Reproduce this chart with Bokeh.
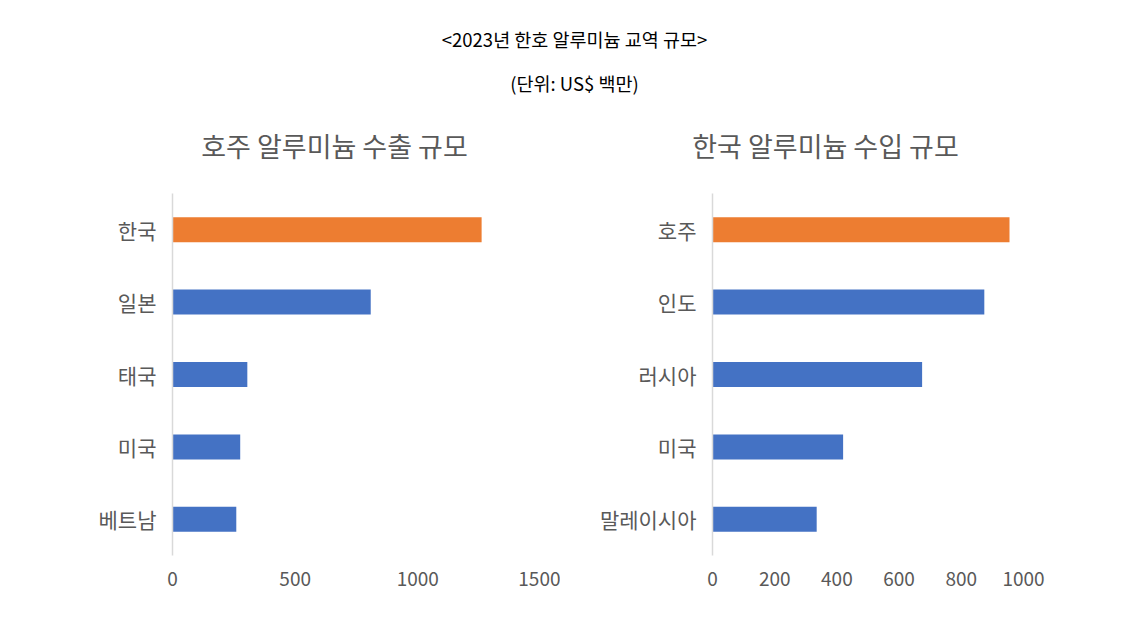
from bokeh.plotting import figure
from bokeh.models import Range1d, FactorRange, FixedTicker, Label
from bokeh.layouts import column, row
from bokeh.embed import file_html
from bokeh.resources import INLINE

# ---- data ----
main_title = "<2023년 한호 알루미늄 교역 규모>"
sub_title = "(단위: US$ 백만)"

left_title = "호주 알루미늄 수출 규모"
left_cats = ["한국", "일본", "태국", "미국", "베트남"]
left_vals = [1260, 808, 305, 276, 260]
left_ticks = [0, 500, 1000, 1500]

right_title = "한국 알루미늄 수입 규모"
right_cats = ["호주", "인도", "러시아", "미국", "말레이시아"]
right_vals = [955, 874, 674, 420, 335]
right_ticks = [0, 200, 400, 600, 800, 1000]

ORANGE = "#ED7D31"
BLUE = "#4472C4"
GRAY = "#595959"
FONT = "Noto Sans CJK KR"

# ---- header ----
header = figure(width=1134, height=178, x_range=Range1d(0, 1134), y_range=Range1d(0, 178),
                output_backend="svg", toolbar_location=None, min_border=0)
header.axis.visible = False
header.grid.visible = False
header.outline_line_color = None
header.add_layout(Label(x=574, y=140, text=main_title, text_align="center", text_baseline="middle",
                        text_font=FONT, text_font_size="18.5px", text_color="#000000"))
header.add_layout(Label(x=574, y=96, text=sub_title, text_align="center", text_baseline="middle",
                        text_font=FONT, text_font_size="18.5px", text_color="#000000"))
header.add_layout(Label(x=334, y=33, text=left_title, text_align="center", text_baseline="middle",
                        text_font=FONT, text_font_size="27px", text_color=GRAY))
header.add_layout(Label(x=825, y=33, text=right_title, text_align="center", text_baseline="middle",
                        text_font=FONT, text_font_size="27px", text_color=GRAY))


def bar_chart(cats, vals, xmax, ticks, width, bl, br):
    colors = [ORANGE] + [BLUE] * (len(cats) - 1)
    p = figure(width=width, height=437, y_range=FactorRange(*reversed(cats)),
               x_range=Range1d(0, xmax), output_backend="svg", toolbar_location=None,
               min_border_left=bl, min_border_right=br, min_border_top=15, min_border_bottom=60)
    p.hbar(y=cats, right=vals, left=0, height=0.345, color=colors, line_color=None)
    p.grid.visible = False
    p.outline_line_color = None
    p.background_fill_color = "white"
    p.border_fill_color = "white"
    p.yaxis.axis_line_color = "#D9D9D9"
    p.yaxis.axis_line_width = 1.5
    p.yaxis.major_tick_line_color = None
    p.yaxis.minor_tick_line_color = None
    p.yaxis.major_label_text_font = FONT
    p.yaxis.major_label_text_font_size = "21px"
    p.yaxis.major_label_text_color = GRAY
    p.yaxis.major_label_standoff = 10
    p.xaxis.ticker = FixedTicker(ticks=ticks)
    p.xaxis.axis_line_color = None
    p.xaxis.major_tick_line_color = None
    p.xaxis.minor_tick_line_color = None
    p.xaxis.major_label_text_font = FONT
    p.xaxis.major_label_text_font_size = "19px"
    p.xaxis.major_label_text_color = GRAY
    p.xaxis.major_label_standoff = 10
    return p


left = bar_chart(left_cats, left_vals, 1500, left_ticks, 560, 172, 20)
right = bar_chart(right_cats, right_vals, 1000, right_ticks, 574, 152, 111)

layout = column(header, row(left, right))
open("out.html", "w").write(file_html(layout, INLINE))
